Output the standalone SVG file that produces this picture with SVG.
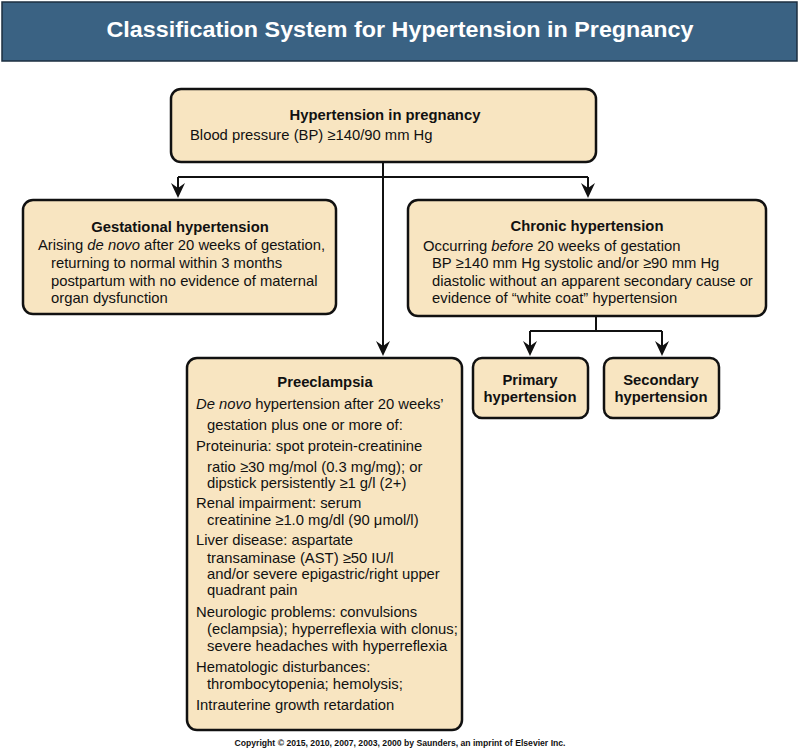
<svg xmlns="http://www.w3.org/2000/svg" width="800" height="752" viewBox="0 0 800 752">
<defs>
<style>
.box{fill:#f8e5c1;stroke:#111;stroke-width:2.5}
.t{font-family:"Liberation Sans",Arial,sans-serif;font-size:14.8px;fill:#111}
.b{font-weight:bold}
.c{text-anchor:middle}
.ln{fill:none;stroke:#111;stroke-width:2}
</style>
</defs>
<rect x="0" y="0" width="800" height="752" fill="#fff"/>
<g id="title">
<rect x="2" y="2" width="795" height="59" fill="#3a6283" stroke="#1c2f40" stroke-width="1.5"/>
<text x="400" y="37" class="c" font-family="'Liberation Sans',Arial,sans-serif" font-weight="bold" font-size="22" fill="#fff" textLength="587" lengthAdjust="spacingAndGlyphs">Classification System for Hypertension in Pregnancy</text>
</g>
<g id="connectors">
<path class="ln" d="M383,162 V350"/>
<path class="ln" d="M178,177 H588"/>
<path class="ln" d="M178,177 V190"/>
<path class="ln" d="M588,177 V190"/>
<path class="ln" d="M596,316 V331 M530,331 H662"/>
<path class="ln" d="M530,331 V348"/>
<path class="ln" d="M662,331 V348"/>
<path d="M171,183 L178,198 L185,183 L178,188 Z" fill="#111"/>
<path d="M581,183 L588,198 L595,183 L588,188 Z" fill="#111"/>
<path d="M376,341 L383,356 L390,341 L383,346 Z" fill="#111"/>
<path d="M523,341 L530,356 L537,341 L530,346 Z" fill="#111"/>
<path d="M655,341 L662,356 L669,341 L662,346 Z" fill="#111"/>
</g>
<g id="hypertension-in-pregnancy">
<rect class="box" x="171" y="89" width="425" height="73" rx="10"/>
<text x="385" y="120" class="t b c">Hypertension in pregnancy</text>
<text x="190" y="140" class="t">Blood pressure (BP) ≥140/90 mm Hg</text>
</g>
<g id="gestational-hypertension">
<rect class="box" x="23" y="200" width="313" height="114" rx="10"/>
<text x="180" y="232" class="t b c">Gestational hypertension</text>
<text x="38" y="250" class="t">Arising <tspan font-style="italic">de novo</tspan> after 20 weeks of gestation,</text>
<text x="51" y="268" class="t">returning to normal within 3 months</text>
<text x="51" y="286" class="t">postpartum with no evidence of maternal</text>
<text x="51" y="303" class="t">organ dysfunction</text>
</g>
<g id="chronic-hypertension">
<rect class="box" x="408" y="200" width="358" height="116" rx="10"/>
<text x="587" y="231" class="t b c">Chronic hypertension</text>
<text x="423" y="251" class="t">Occurring <tspan font-style="italic">before</tspan> 20 weeks of gestation</text>
<text x="432" y="268" class="t">BP ≥140 mm Hg systolic and/or ≥90 mm Hg</text>
<text x="432" y="286" class="t">diastolic without an apparent secondary cause or</text>
<text x="432" y="303" class="t">evidence of “white coat” hypertension</text>
</g>
<g id="primary-hypertension">
<rect class="box" x="473" y="358" width="115" height="60" rx="9"/>
<text x="530" y="385" class="t b c">Primary</text>
<text x="530" y="402" class="t b c">hypertension</text>
</g>
<g id="secondary-hypertension">
<rect class="box" x="604" y="358" width="115" height="60" rx="9"/>
<text x="661" y="385" class="t b c">Secondary</text>
<text x="661" y="402" class="t b c">hypertension</text>
</g>
<g id="preeclampsia">
<rect class="box" x="187" y="358" width="275" height="372" rx="10"/>
<text x="325" y="387" class="t b c">Preeclampsia</text>
<text x="196" y="409" class="t"><tspan font-style="italic">De novo</tspan> hypertension after 20 weeks’</text>
<text x="207" y="430" class="t">gestation plus one or more of:</text>
<text x="196" y="451" class="t">Proteinuria: spot protein-creatinine</text>
<text x="207" y="472" class="t">ratio ≥30 mg/mol (0.3 mg/mg); or</text>
<text x="207" y="488" class="t">dipstick persistently ≥1 g/l (2+)</text>
<text x="196" y="508" class="t">Renal impairment: serum</text>
<text x="207" y="525" class="t">creatinine ≥1.0 mg/dl (90 μmol/l)</text>
<text x="196" y="545" class="t">Liver disease: aspartate</text>
<text x="207" y="563" class="t">transaminase (AST) ≥50 IU/l</text>
<text x="207" y="579" class="t">and/or severe epigastric/right upper</text>
<text x="207" y="595" class="t">quadrant pain</text>
<text x="196" y="617" class="t">Neurologic problems: convulsions</text>
<text x="207" y="634" class="t">(eclampsia); hyperreflexia with clonus;</text>
<text x="207" y="651" class="t">severe headaches with hyperreflexia</text>
<text x="196" y="672" class="t">Hematologic disturbances:</text>
<text x="207" y="689" class="t">thrombocytopenia; hemolysis;</text>
<text x="196" y="710" class="t">Intrauterine growth retardation</text>
</g>
<text x="400" y="746" class="c" font-family="'Liberation Sans',Arial,sans-serif" font-size="9" font-weight="bold" fill="#111" textLength="331" lengthAdjust="spacingAndGlyphs">Copyright © 2015, 2010, 2007, 2003, 2000 by Saunders, an imprint of Elsevier Inc.</text>
</svg>
